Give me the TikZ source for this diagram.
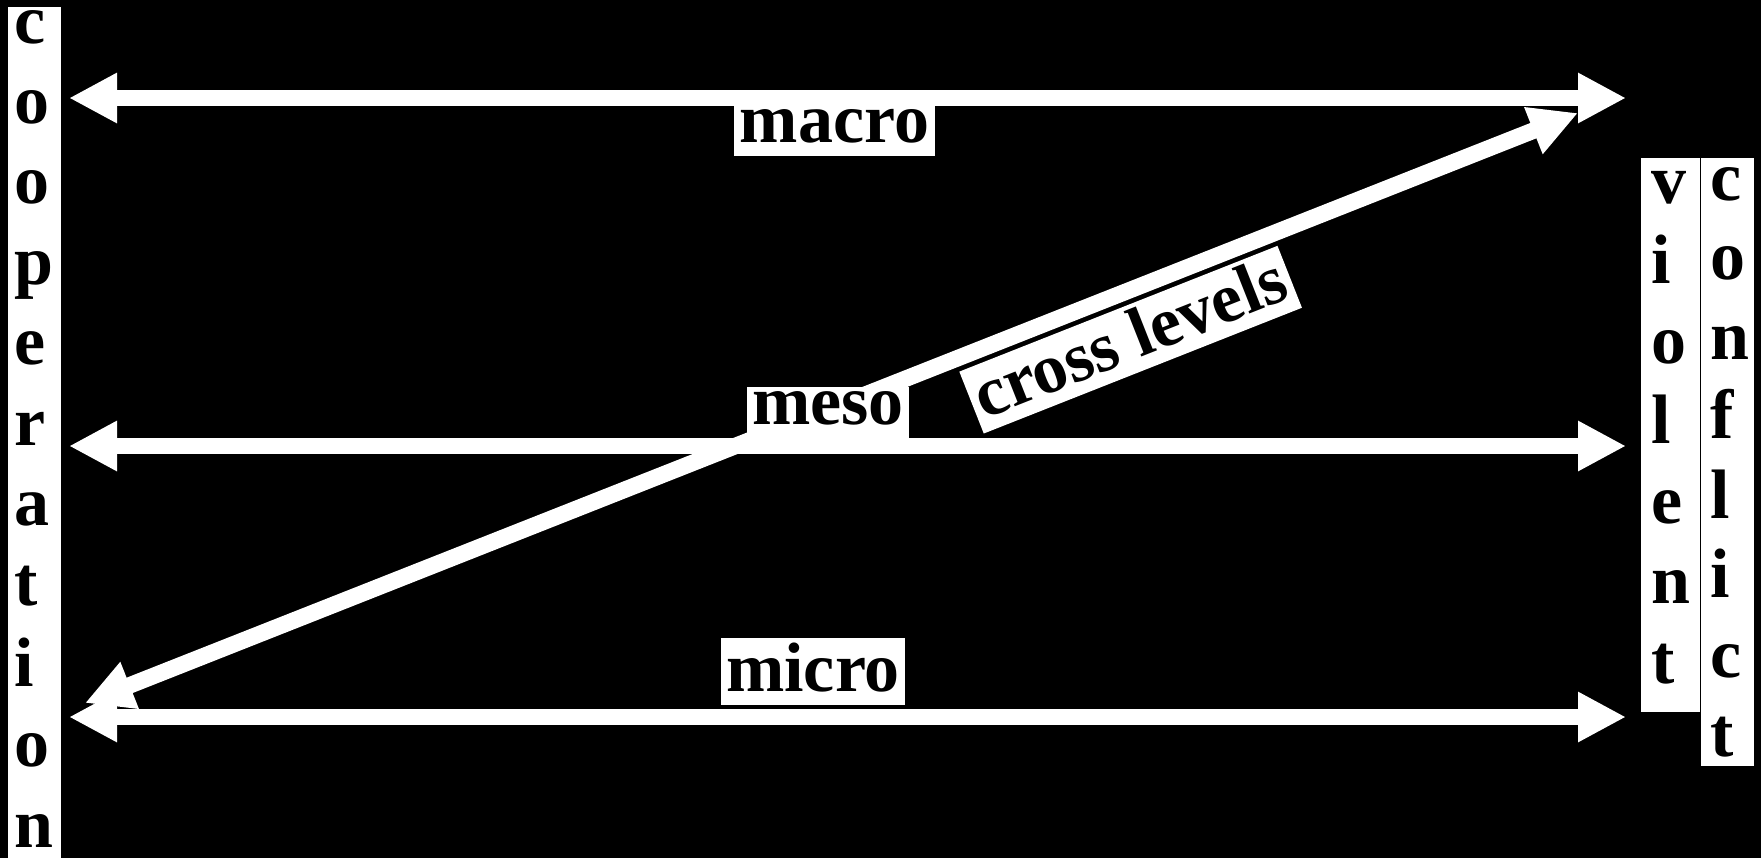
\documentclass[tikz,border=0pt]{standalone}
\usepackage{fontspec}
\setmainfont{Liberation Serif}
\usetikzlibrary{arrows.meta}
\begin{document}
\begin{tikzpicture}[x=0.5pt,y=-0.5pt,
  bigfont/.style={font=\fontsize{35}{42}\selectfont\bfseries},
  twoway/.style={draw=white, line width=8.25pt,
    {Triangle[length=24pt,width=23.5pt]}-{Triangle[length=24pt,width=23.5pt]}},
  lbl/.style={bigfont, fill=white, text=black, inner xsep=2.75pt, inner ysep=2.5pt, text depth=4pt},
  sidebox/.style={fill=white, draw=none, inner sep=0pt, anchor=north west},
  letter/.style={bigfont, text=black, inner sep=0pt, anchor=base west}
]
\fill[black] (0,0) rectangle (1761,858);
\useasboundingbox (0,0) rectangle (1761,858);

% side boxes
\node[sidebox, minimum width=26.5pt, minimum height=426pt] (coopbox) at (8,7) {};
\node[sidebox, minimum width=29.25pt, minimum height=277pt] (violbox) at (1641,158) {};
\node[sidebox, minimum width=26.5pt, minimum height=304pt] (conflbox) at (1701,158) {};

\foreach \ch [count=\i] in {c,o,o,p,e,r,a,t,i,o,n}
  \node[letter] (coop\i) at (14,{43+80.4*(\i-1)}) {\ch};
\foreach \ch [count=\i] in {v,i,o,l,e,n,t}
  \node[letter] (viol\i) at (1651,{203+80*(\i-1)}) {\ch};
\foreach \ch [count=\i] in {c,o,n,f,l,i,c,t}
  \node[letter] (confl\i) at (1710,{200+79.5*(\i-1)}) {\ch};

% arrow end points
\coordinate (macroL) at (69,98);
\coordinate (macroR) at (1626,98);
\coordinate (mesoL) at (69,446);
\coordinate (mesoR) at (1626,446);
\coordinate (microL) at (69,717);
\coordinate (microR) at (1626,717);
\coordinate (crossL) at (85,703);
\coordinate (crossR) at (1578,113);

\draw[twoway] (macroL) -- (macroR);
\draw[twoway] (mesoL) -- (mesoR);
\draw[twoway] (microL) -- (microR);
\draw[twoway] (crossL) -- (crossR);

% labels
\node[lbl, anchor=south] (macro) at (834.5,156) {macro};
\node[lbl, anchor=south] (meso) at (828,438) {meso};
\node[lbl, anchor=south] (micro) at (813,705) {micro};
\node[lbl, anchor=south, rotate=21.57] (cross) at (1143,371) {cross levels};
\end{tikzpicture}
\end{document}
